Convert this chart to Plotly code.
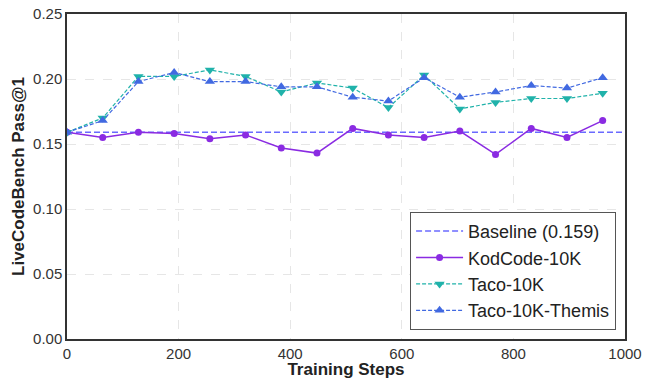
import plotly.graph_objects as go

steps = [0, 64, 128, 192, 256, 320, 384, 448, 512, 576, 640, 704, 768, 832, 896, 960]
baseline_value = 0.159
baseline_x = [0, 1000]
kodcode = [0.159, 0.155, 0.159, 0.158, 0.154, 0.157, 0.147, 0.143, 0.162, 0.157, 0.155, 0.160, 0.142, 0.162, 0.155, 0.168]
taco = [0.159, 0.170, 0.202, 0.202, 0.207, 0.202, 0.190, 0.197, 0.193, 0.178, 0.203, 0.177, 0.182, 0.185, 0.185, 0.189]
themis = [0.159, 0.168, 0.198, 0.205, 0.198, 0.198, 0.194, 0.194, 0.186, 0.183, 0.201, 0.186, 0.190, 0.195, 0.193, 0.201]
x_ticks = [0, 200, 400, 600, 800, 1000]
y_ticks = [0.00, 0.05, 0.10, 0.15, 0.20, 0.25]

FONT = "Liberation Sans, Arial, sans-serif"

fig = go.Figure()
fig.add_trace(go.Scatter(
    x=baseline_x, y=[baseline_value] * len(baseline_x), mode="lines",
    name="Baseline (0.159)",
    line=dict(color="rgba(90,90,255,0.9)", width=1.5, dash="6px,3px"),
))
fig.add_trace(go.Scatter(
    x=steps, y=kodcode, mode="lines+markers", name="KodCode-10K",
    line=dict(color="#8A2BE2", width=1.5),
    marker=dict(symbol="circle", size=7, color="#8A2BE2"),
))
fig.add_trace(go.Scatter(
    x=steps, y=taco, mode="lines+markers", name="Taco-10K",
    line=dict(color="#20B2AA", width=1.2, dash="4px,2px"),
    marker=dict(symbol="triangle-down", size=9, color="#20B2AA"),
))
fig.add_trace(go.Scatter(
    x=steps, y=themis, mode="lines+markers", name="Taco-10K-Themis",
    line=dict(color="#4169E1", width=1.2, dash="4px,2px"),
    marker=dict(symbol="triangle-up", size=9, color="#4169E1"),
))

axis_common = dict(
    showline=True, linecolor="#333333", linewidth=1.5, mirror=True,
    showgrid=True, gridcolor="#e6e6e6", griddash="dash", gridwidth=1,
    zeroline=False, ticks="", automargin=False,
    tickfont=dict(family=FONT, size=15, color="#333333"),
)

fig.update_layout(
    width=651, height=379,
    margin=dict(l=67, r=26, t=14, b=40),
    paper_bgcolor="white", plot_bgcolor="white",
    font=dict(family=FONT, color="#333333"),
    xaxis=dict(
        range=[0, 1000], tickvals=x_ticks, ticktext=[str(v) for v in x_ticks],
        title=dict(text="<b>Training Steps</b>", font=dict(family=FONT, size=17, color="#222222"), standoff=0),
        **axis_common,
    ),
    yaxis=dict(
        range=[0, 0.25], tickvals=y_ticks, ticktext=[f"{v:.2f}" for v in y_ticks],
        title=dict(text="<b>LiveCodeBench Pass@1</b>", font=dict(family=FONT, size=17, color="#222222"), standoff=4),
        **axis_common,
    ),
    legend=dict(
        x=0.984, y=0.028, xanchor="right", yanchor="bottom",
        bgcolor="white", bordercolor="#555555", borderwidth=1,
        font=dict(family=FONT, size=18, color="#222222"),
        tracegroupgap=0, itemwidth=47,
    ),
    showlegend=True,
)

# remove the default 8px page margin so the figure fills the window exactly
fig.write_html("out.html", config={"displayModeBar": False},
               post_script="document.body.style.margin='0';")
